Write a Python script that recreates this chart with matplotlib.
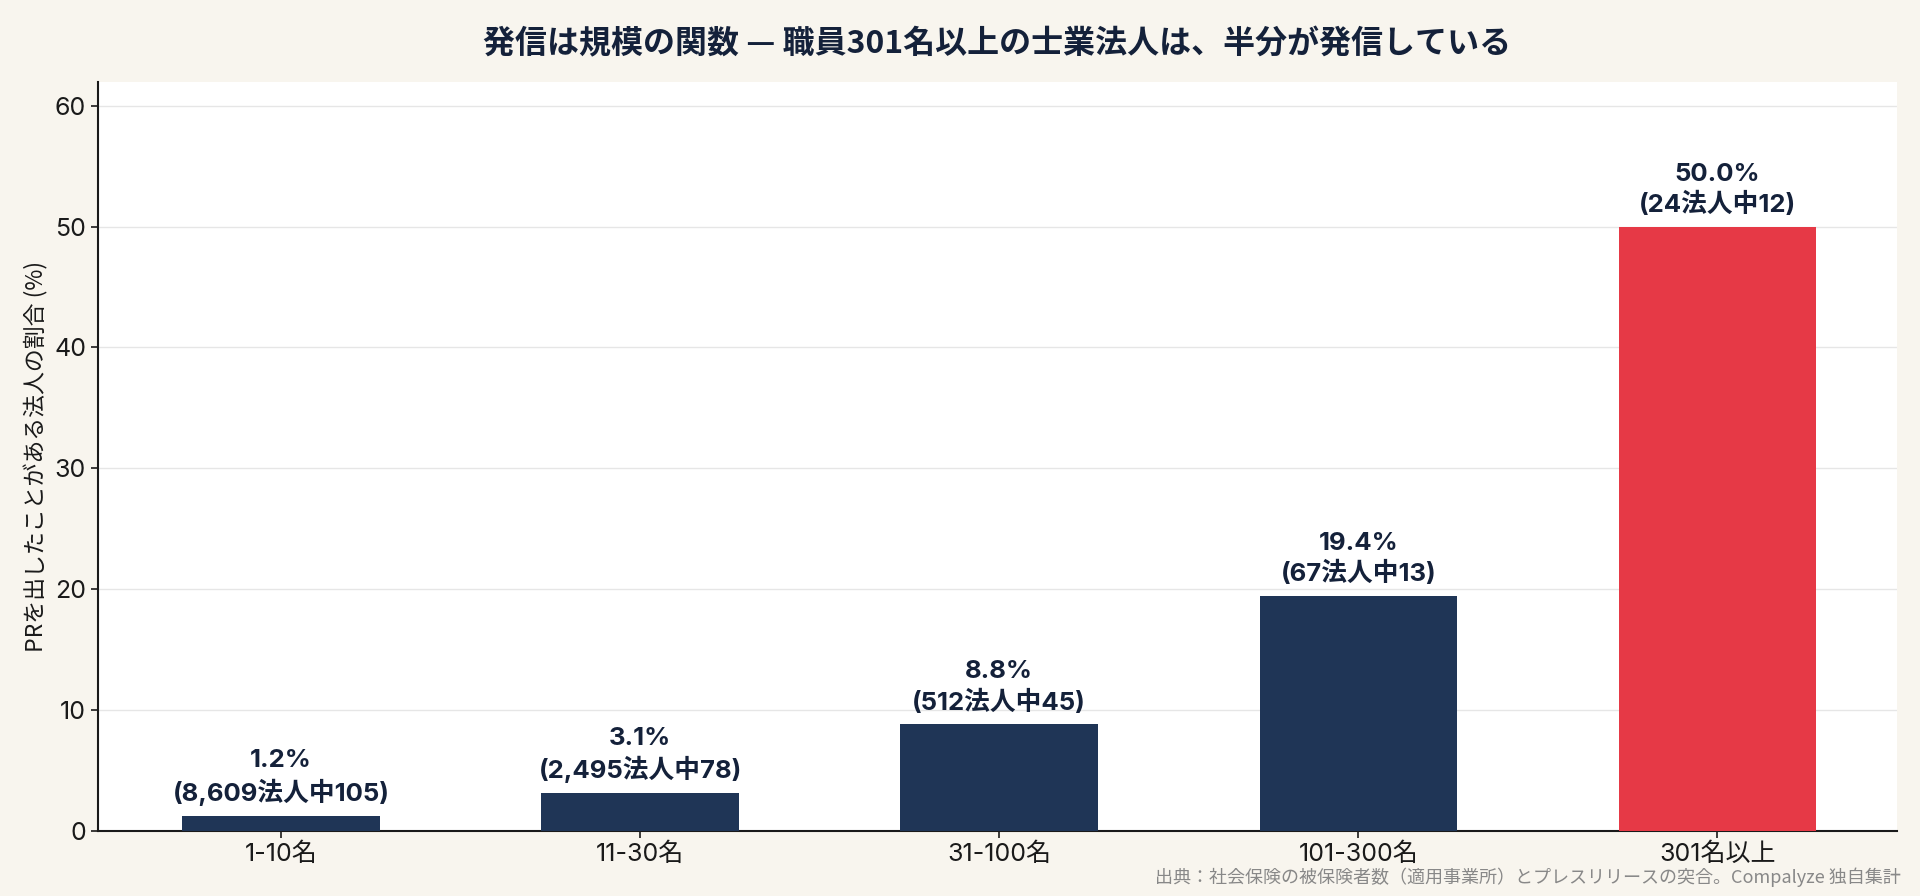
import matplotlib
matplotlib.use('Agg')
import matplotlib.pyplot as plt
import numpy as np

plt.rcParams['font.family'] = ['Inter', 'Noto Sans CJK JP', 'DejaVu Sans']

categories = ['1-10名', '11-30名', '31-100名', '101-300名', '301名以上']
rates = [1.2, 3.1, 8.8, 19.4, 50.0]
totals = ['8,609', '2,495', '512', '67', '24']
counts = [105, 78, 45, 13, 12]

navy = '#1f3556'
red = '#e63946'
bg = '#f8f5ee'
ink = '#14213a'
cjk = ['Noto Sans CJK JP', 'DejaVu Sans']

fig = plt.figure(figsize=(19.2, 8.96), dpi=100, facecolor=bg)
ax = fig.add_axes([0.051, 0.073, 0.937, 0.836])
ax.set_facecolor('white')

x = np.arange(len(categories))
colors = [navy] * (len(categories) - 1) + [red]
ax.bar(x, rates, width=0.55, color=colors, zorder=3)

for xi, r, t, c in zip(x, rates, totals, counts):
    ax.annotate('{:.1f}%\n({}法人中{})'.format(r, t, c), (xi, r),
                xytext=(0, 7), textcoords='offset points',
                ha='center', va='bottom', fontsize=18.5, fontweight='bold',
                color=ink, linespacing=1.3)

ax.set_xlim(-0.51, 4.5)
ax.set_ylim(0, 62)
ax.set_yticks(range(0, 61, 10))
ax.set_xticks(x)
ax.set_xticklabels(categories)
ax.tick_params(axis='both', labelsize=18, colors='#1a1a1a', length=5, width=1.2)
ax.grid(axis='y', color='#e6e6e6', linewidth=1, zorder=0)
for s in ['top', 'right']:
    ax.spines[s].set_visible(False)
for s in ['left', 'bottom']:
    ax.spines[s].set_color('#1a1a1a')
    ax.spines[s].set_linewidth(1.5)

ax.set_ylabel('PRを出したことがある法人の割合 (%)', fontsize=16.5, color='#1a1a1a',
              family=cjk)
ax.set_title('発信は規模の関数 — 職員301名以上の士業法人は、半分が発信している',
             fontsize=23, fontweight='bold', color=ink, pad=20, family=cjk)

fig.text(0.990, 0.010, '出典：社会保険の被保険者数（適用事業所）とプレスリリースの突合。Compalyze 独自集計',
         ha='right', va='bottom', fontsize=13, color='#888888', family=cjk)

plt.savefig('out.png', dpi=100, facecolor=bg)
